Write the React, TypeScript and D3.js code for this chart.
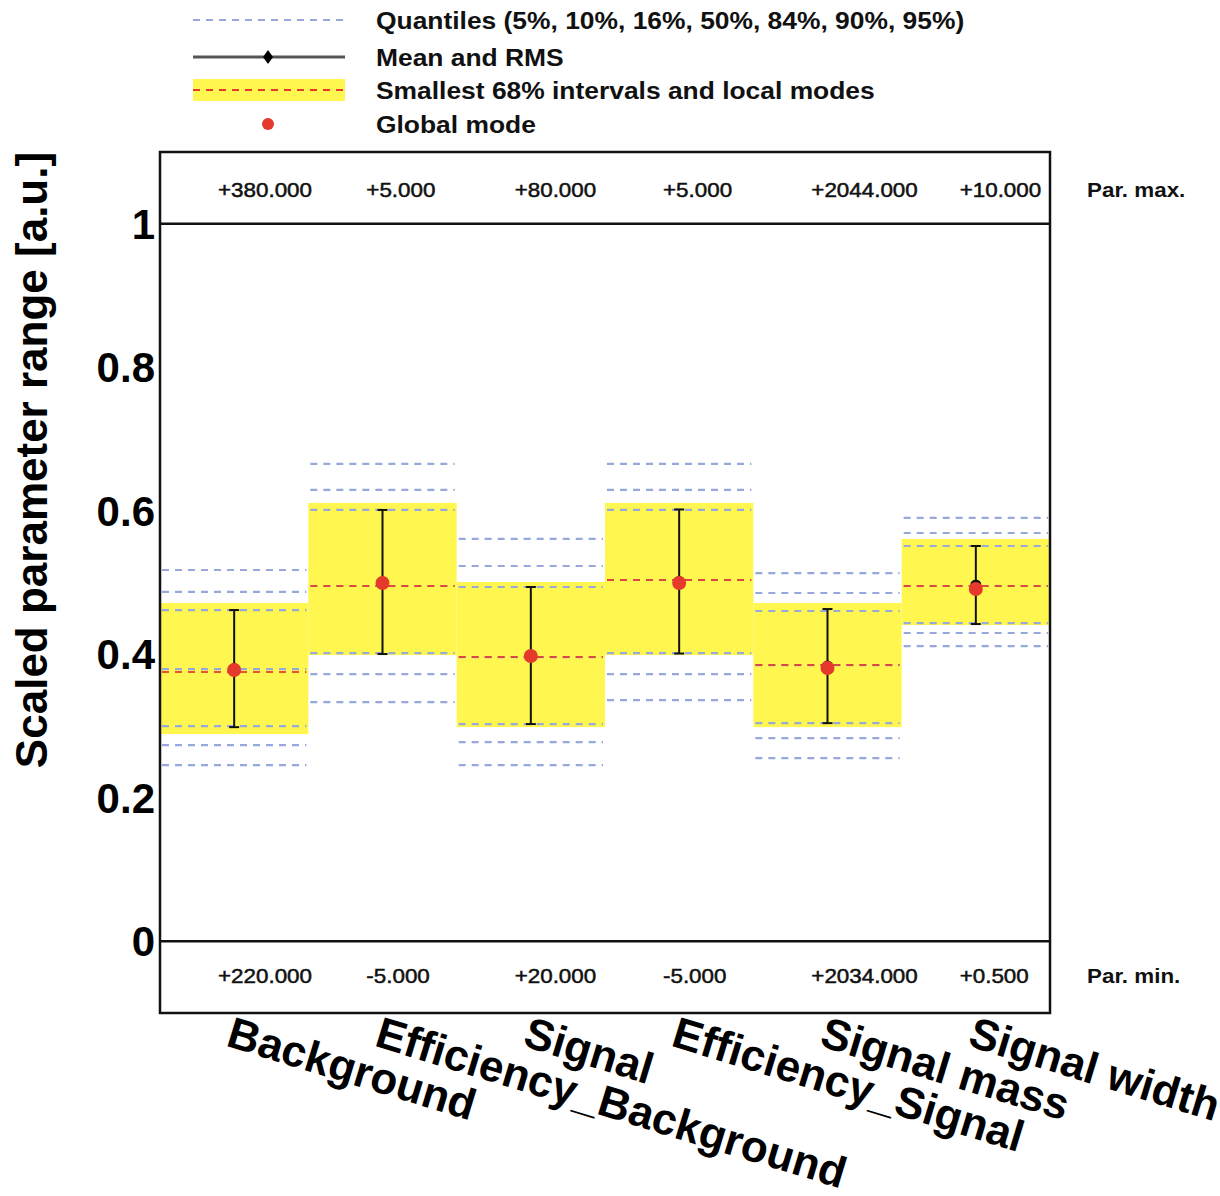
import React from "react";
import * as d3 from "d3";

const names = ["Background", "Efficiency_Background", "Signal", "Efficiency_Signal", "Signal mass", "Signal width"];
const parMax = [380, 5, 80, 5, 2044, 10];
const parMin = [220, -5, 20, -5, 2034, 0.5];
// quantiles 5,10,16,50,84,90,95 (scaled)
const q05 = [0.2455, 0.3333, 0.2455, 0.3361, 0.2552, 0.4114];
const q10 = [0.2734, 0.3724, 0.2775, 0.3724, 0.2831, 0.4296];
const q16 = [0.2999, 0.4017, 0.3027, 0.4017, 0.304, 0.4435];
const q50 = [0.3794, 0.4951, 0.3961, 0.5035, 0.3849, 0.4951];
const q84 = [0.4616, 0.6011, 0.4937, 0.6011, 0.4603, 0.5509];
const q90 = [0.4868, 0.629, 0.523, 0.629, 0.4854, 0.569];
const q95 = [0.5174, 0.6653, 0.5607, 0.6653, 0.5132, 0.59];
const intLow = [0.2887, 0.3989, 0.2985, 0.3989, 0.2985, 0.4407];
const intHigh = [0.4714, 0.6109, 0.5007, 0.6109, 0.4714, 0.5607];
const localMode = [0.3752, 0.495, 0.3961, 0.5035, 0.3849, 0.4951];
const means = [0.38, 0.5007, 0.3982, 0.5014, 0.3835, 0.4965];
const rms = [0.0816, 0.1004, 0.0955, 0.1004, 0.0795, 0.0544];
const globalMode = [0.378, 0.4993, 0.3975, 0.4993, 0.3808, 0.4909];
const yTicks = [0, 0.2, 0.4, 0.6, 0.8, 1];
const yTickLabels = ["0", "0.2", "0.4", "0.6", "0.8", "1"];
const legendLabels = [
  "Quantiles (5%, 10%, 16%, 50%, 84%, 90%, 95%)",
  "Mean and RMS",
  "Smallest 68% intervals and local modes",
  "Global mode",
];

const FONT = "'Liberation Sans', Arial, Helvetica, sans-serif";
const QCOL = "#97a9da";
const YEL = "#fff650";
const RED = "#e4392b";

const fmt = (v: number) => (v >= 0 ? "+" : "-") + Math.abs(v).toFixed(3);

export default function App() {
  const W = 1220, H = 1196;
  const left = 160, right = 1050, top = 152, bottom = 1013;
  const x = d3.scaleBand<string>().domain(names).range([left, right]).paddingInner(0).paddingOuter(0);
  const y = d3.scaleLinear().domain([-0.1, 1.1]).range([bottom, top]);
  const bw = x.bandwidth();
  const quantSets = [q05, q10, q16, q50, q84, q90, q95];

  const lx0 = 193, lx1 = 345, lxm = 268;
  const legY = [20, 57, 90, 124];

  return (
    <svg width={W} height={H} style={{ position: "absolute", left: 0, top: 0, background: "#fff" }} fontFamily={FONT}>
      {/* legend */}
      <g>
        <line x1={lx0} x2={lx1} y1={legY[0]} y2={legY[0]} stroke={QCOL} strokeWidth={2} strokeDasharray="7 6" />
        <line x1={lx0} x2={lx1} y1={legY[1]} y2={legY[1]} stroke="#555" strokeWidth={3} />
        <path d={`M${lxm},${legY[1] - 7} L${lxm + 5},${legY[1]} L${lxm},${legY[1] + 7} L${lxm - 5},${legY[1]} Z`} fill="#000" />
        <rect x={lx0} y={legY[2] - 11} width={lx1 - lx0} height={22} fill={YEL} />
        <line x1={lx0} x2={lx1} y1={legY[2]} y2={legY[2]} stroke={RED} strokeWidth={2} strokeDasharray="7 6" />
        <circle cx={lxm} cy={legY[3]} r={6} fill={RED} />
        {legendLabels.map((t, i) => (
          <text key={t} transform={`translate(376,${legY[i] + 9}) scale(1.1,1)`} fontSize={24} fontWeight="bold" fill="#111">{t}</text>
        ))}
      </g>

      {/* plot contents */}
      {names.map((n, i) => {
        const x0 = x(n)!;
        const xc = x0 + bw / 2;
        return (
          <g key={n}>
            <rect x={x0} y={y(intHigh[i])} width={bw} height={y(intLow[i]) - y(intHigh[i])} fill={YEL} />
            {quantSets.map((qs, k) => (
              <line key={k} x1={x0 + 2} x2={x0 + bw - 2} y1={y(qs[i])} y2={y(qs[i])} stroke={QCOL} strokeWidth={2.2} strokeDasharray="7 6" />
            ))}
            <line x1={x0 + 2} x2={x0 + bw - 2} y1={y(localMode[i])} y2={y(localMode[i])} stroke={RED} strokeWidth={2} strokeDasharray="7 6" opacity={0.85} />
            <line x1={xc} x2={xc} y1={y(means[i] + rms[i])} y2={y(means[i] - rms[i])} stroke="#111" strokeWidth={2} />
            <line x1={xc - 5} x2={xc + 5} y1={y(means[i] + rms[i])} y2={y(means[i] + rms[i])} stroke="#111" strokeWidth={2} />
            <line x1={xc - 5} x2={xc + 5} y1={y(means[i] - rms[i])} y2={y(means[i] - rms[i])} stroke="#111" strokeWidth={2} />
            <circle cx={xc} cy={y(means[i])} r={5.5} fill="#111" />
            <circle cx={xc} cy={y(globalMode[i])} r={7} fill={RED} />
            <text transform={`translate(${x0 + 58},${y(1.1) + 45}) scale(1.12,1)`} fontSize={20} fill="#111" stroke="#111" strokeWidth={0.5}>{fmt(parMax[i])}</text>
            <text transform={`translate(${x0 + 58},${y(-0.1) - 30}) scale(1.12,1)`} fontSize={20} fill="#111" stroke="#111" strokeWidth={0.5}>{fmt(parMin[i])}</text>
            <text transform={`translate(${xc},${bottom + 2}) rotate(17)`} x={0} y={32} fontSize={44} fontWeight="bold" fill="#000">{n}</text>
          </g>
        );
      })}

      {/* frame and reference lines */}
      <rect x={left} y={top} width={right - left} height={bottom - top} fill="none" stroke="#111" strokeWidth={2.5} />
      <line x1={left} x2={right} y1={y(1)} y2={y(1)} stroke="#111" strokeWidth={2.5} />
      <line x1={left} x2={right} y1={y(0)} y2={y(0)} stroke="#111" strokeWidth={2.5} />

      {/* y tick labels */}
      {yTicks.map((t, i) => (
        <text key={t} x={155} y={y(t) + 15} textAnchor="end" fontSize={42} fontWeight="bold" fill="#000">{yTickLabels[i]}</text>
      ))}
      <text transform={`translate(47,${(150 + 770) / 2}) rotate(-90)`} textAnchor="middle" fontSize={44} fontWeight="bold" fill="#000">Scaled parameter range [a.u.]</text>

      <text transform={`translate(1087,${y(1.1) + 45}) scale(1.12,1)`} fontSize={20} fontWeight="bold" fill="#111">Par. max.</text>
      <text transform={`translate(1087,${y(-0.1) - 30}) scale(1.12,1)`} fontSize={20} fontWeight="bold" fill="#111">Par. min.</text>
    </svg>
  );
}
